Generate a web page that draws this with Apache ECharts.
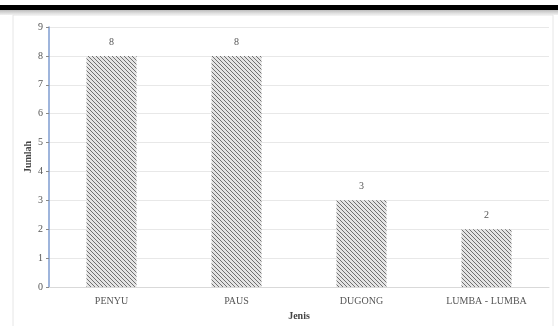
<!DOCTYPE html>
<html>
<head>
<meta charset="utf-8">
<script src="https://cdn.jsdelivr.net/npm/echarts@6/dist/echarts.min.js"></script>
<style>
  html, body { margin: 0; padding: 0; background: #fff; }
  #chart { width: 558px; height: 326px; }
</style>
</head>
<body>
<div id="chart"></div>
<script>
const categories = ['PENYU', 'PAUS', 'DUGONG', 'LUMBA - LUMBA'];
const jumlah = [8, 8, 3, 2];
const yTicks = [0, 1, 2, 3, 4, 5, 6, 7, 8, 9];

// hatch fill like the original spreadsheet chart
function hatch() {
  const c = document.createElement('canvas');
  c.width = 4; c.height = 4;
  const g = c.getContext('2d');
  g.fillStyle = '#e4e4e4';
  g.fillRect(0, 0, 4, 4);
  g.strokeStyle = '#707070';
  g.lineWidth = 1;
  g.beginPath();
  g.moveTo(-1, -1); g.lineTo(5, 5);
  g.moveTo(-1, 3); g.lineTo(1, 5);
  g.moveTo(3, -1); g.lineTo(5, 1);
  g.stroke();
  return c;
}

const chart = echarts.init(document.getElementById('chart'));
chart.setOption({
  animation: false,
  textStyle: { fontFamily: 'Liberation Serif' },
  graphic: [
    { type: 'rect', shape: { x: 0, y: 10, width: 558, height: 5 },
      style: { fill: new echarts.graphic.LinearGradient(0, 0, 0, 1, [
        { offset: 0, color: '#bdbdbd' }, { offset: 1, color: '#f2f2f2' }]) }, z: 0 },
    { type: 'rect', shape: { x: 0, y: 5, width: 558, height: 5 }, style: { fill: '#000' }, z: 1 },
    { type: 'rect', shape: { x: 13, y: 15, width: 540, height: 320 },
      style: { fill: 'none', stroke: '#e6e6e6', lineWidth: 1 }, z: 0 }
  ],
  grid: { left: 49, right: 9, top: 27, bottom: 38 },
  xAxis: {
    type: 'category',
    data: categories,
    name: 'Jenis',
    nameLocation: 'middle',
    nameGap: 24,
    nameMoveOverlap: false,
    nameTextStyle: { fontWeight: 'bold', fontSize: 10, color: '#444' },
    axisLine: { lineStyle: { color: '#d9d9d9' } },
    axisTick: { show: false },
    axisLabel: { color: '#555', fontSize: 10, margin: 9 }
  },
  yAxis: {
    type: 'value',
    min: yTicks[0],
    max: yTicks[yTicks.length - 1],
    interval: 1,
    name: 'Jumlah',
    nameLocation: 'middle',
    nameGap: 16,
    nameMoveOverlap: false,
    nameTextStyle: { fontWeight: 'bold', fontSize: 10, color: '#444' },
    axisLine: { show: true, lineStyle: { color: '#7f9cd0', width: 1.5 } },
    axisTick: { show: true, length: 3, lineStyle: { color: '#888' } },
    axisLabel: { color: '#555', fontSize: 10, margin: 6 },
    splitLine: { lineStyle: { color: '#e8e8e8' } }
  },
  series: [{
    type: 'bar',
    data: jumlah,
    barWidth: '40%',
    itemStyle: { color: { image: hatch(), repeat: 'repeat' } },
    label: {
      show: true,
      position: 'top',
      distance: 9,
      color: '#555',
      fontSize: 10
    }
  }]
});
</script>
</body>
</html>
